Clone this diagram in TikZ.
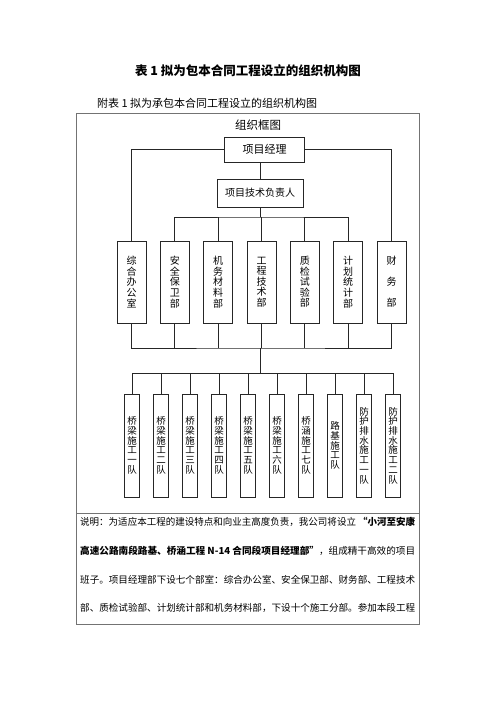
\documentclass[tikz,border=0pt]{standalone}
\usepackage{fontspec}
\usepackage{graphicx}
\setmainfont{Noto Sans CJK SC}
\newfontfamily\cjk{Noto Sans CJK SC}
\newcommand\fitline[1]{\resizebox{335pt}{\height}{#1}}
\begin{document}
\begin{tikzpicture}[x=1pt,y=-1pt,
  line/.style={draw=black!85,line width=0.8pt},
  box/.style={draw=black!85,line width=0.8pt,inner sep=0pt,align=center},
  dept/.style={box,minimum width=29pt,minimum height=82pt,font=\cjk\fontsize{10}{10.6}\selectfont},
  team/.style={box,minimum width=14.5pt,minimum height=103pt,font=\cjk\fontsize{9.5}{9.7}\selectfont},
  paraline/.style={anchor=west,inner sep=0pt,font=\cjk\fontsize{9.6}{12}\selectfont}]
\useasboundingbox (0,0) rectangle (496,702);
\fill[white] (0,0) rectangle (496,702);
% titles
\node[font=\cjk\bfseries\fontsize{12.5}{14}\selectfont] (title) at (248,71) {表 1 拟为包本合同工程设立的组织机构图};
\node[font=\cjk\fontsize{11}{13}\selectfont,anchor=west,inner sep=0pt] (sub) at (97,103) {附表 1 拟为承包本合同工程设立的组织机构图};
% frame
\draw[draw=black!55,line width=0.8pt] (76.5,113) rectangle (419,624);
\draw[draw=black!55,line width=0.8pt] (76.5,513) -- (419,513);
\node[font=\cjk\fontsize{11.5}{13}\selectfont] (frametitle) at (258,125) {组织框图};
% top boxes
\node[box,minimum width=80pt,minimum height=25pt,font=\cjk\fontsize{11}{13}\selectfont] (pm) at (264.5,149.5) {项目经理};
\node[box,minimum width=86pt,minimum height=28pt,font=\cjk\fontsize{10}{12}\selectfont] (tech) at (260,193) {项目技术负责人};
% departments
\node[dept] (d1) at (131.5,282) {综\\合\\办\\公\\室};
\node[dept] (d2) at (174.8,282) {安\\全\\保\\卫\\部};
\node[dept] (d3) at (218.2,282) {机\\务\\材\\料\\部};
\node[dept] (d4) at (261.5,282) {工\\程\\技\\术\\部};
\node[dept] (d5) at (304.8,282) {质\\检\\试\\验\\部};
\node[dept] (d6) at (348.2,282) {计\\划\\统\\计\\部};
\node[dept,font=\cjk\fontsize{10}{21}\selectfont] (d7) at (391.5,282) {财\\务\\部};
% teams
\node[team] (t1) at (132,445.5) {桥\\梁\\施\\工\\一\\队};
\node[team] (t2) at (161,445.5) {桥\\梁\\施\\工\\二\\队};
\node[team] (t3) at (190,445.5) {桥\\梁\\施\\工\\三\\队};
\node[team] (t4) at (219,445.5) {桥\\梁\\施\\工\\四\\队};
\node[team] (t5) at (248,445.5) {桥\\梁\\施\\工\\五\\队};
\node[team] (t6) at (277,445.5) {桥\\梁\\施\\工\\六\\队};
\node[team] (t7) at (306,445.5) {桥\\涵\\施\\工\\七\\队};
\node[team] (t8) at (335,445.5) {路\\基\\施\\工\\队};
\node[team] (t9) at (364,445.5) {防\\护\\排\\水\\施\\工\\一\\队};
\node[team] (t10) at (393,445.5) {防\\护\\排\\水\\施\\工\\二\\队};
% bus coordinates
\coordinate (busA) at (260,217);
\coordinate (busB) at (260,348);
\coordinate (busC) at (260,373.5);
% connectors
\draw[line] (pm.west) -| (d1.north);
\draw[line] (pm.east) -| (d7.north);
\draw[line] (pm.south -| tech.north) -- (tech.north);
\draw[line] (tech.south) -- (busA);
\draw[line] (d2.north) |- (busA) -| (d6.north);
\draw[line] (d3.north) -- (d3.north |- busA);
\draw[line] (d4.north) -- (d4.north |- busA);
\draw[line] (d5.north) -- (d5.north |- busA);
\draw[line] (d1.south) |- (busB) -| (d7.south);
\draw[line] (d2.south) -- (d2.south |- busB);
\draw[line] (d3.south) -- (d3.south |- busB);
\draw[line] (d4.south) -- (d4.south |- busB);
\draw[line] (d5.south) -- (d5.south |- busB);
\draw[line] (d6.south) -- (d6.south |- busB);
\draw[line] (busB) -- (busC);
\draw[line] (t1.north) |- (busC) -| (t10.north);
\foreach \t in {t2,t3,t4,t5,t6,t7,t8,t9}{
  \draw[line] (\t.north) -- (\t.north |- busC);
}
% description
\node[paraline] (l1) at (80,522) {\fitline{说明：为适应本工程的建设特点和向业主高度负责，我公司将设立 {\bfseries “小河至安康}}};
\node[paraline] (l2) at (80,551) {\fitline{{\bfseries 高速公路南段路基、桥涵工程 N-14 合同段项目经理部”}，组成精干高效的项目}};
\node[paraline] (l3) at (80,580) {\fitline{班子。项目经理部下设七个部室：综合办公室、安全保卫部、财务部、工程技术}};
\node[paraline] (l4) at (80,608) {\fitline{部、质检试验部、计划统计部和机务材料部，下设十个施工分部。参加本段工程}};
\end{tikzpicture}
\end{document}
